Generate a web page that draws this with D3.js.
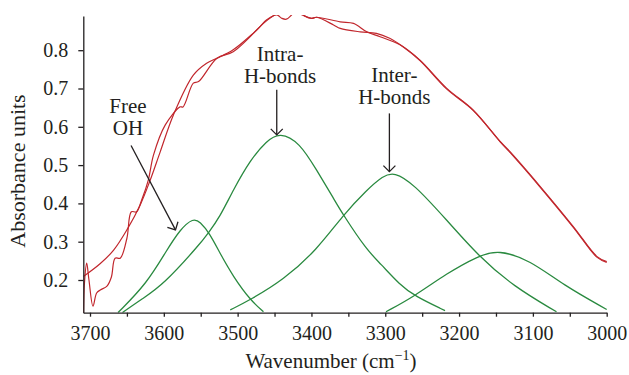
<!DOCTYPE html>
<html><head><meta charset="utf-8">
<script src="https://cdn.jsdelivr.net/npm/d3@7"></script>
<style>body{margin:0;background:#fff}</style>
</head><body><svg id="c" width="629" height="375"></svg>
<script>
// ---- data ----
const xTickValues = [3700,3650,3600,3550,3500,3450,3400,3350,3300,3250,3200,3150,3100,3050,3000];
const yTickValues = [0.2,0.3,0.4,0.5,0.6,0.7,0.8];

// measured spectrum (wiggly red)
const measWave = [3709,3707.5,3704.5,3701.4,3696,3691,3686,3677,3671,3666,3659,3650,3644,3637,3630,3621,3614,3598,3578,3574,3560,3553,3528,3506,3470,3461,3447,3440,3434,3427,3418,3409,3400,3393,3370,3361,3334,3312,3294,3276,3253,3217,3181,3144,3131,3090,3045,3013,3000];
const measAbs  = [0.09,0.192,0.244,0.20,0.132,0.166,0.174,0.184,0.208,0.257,0.257,0.309,0.378,0.378,0.409,0.461,0.526,0.605,0.652,0.652,0.714,0.718,0.779,0.796,0.861,0.879,0.892,0.883,0.881,0.892,0.910,0.889,0.883,0.886,0.866,0.857,0.848,0.844,0.831,0.809,0.773,0.699,0.643,0.560,0.533,0.442,0.337,0.259,0.246];

// fitted sum (smooth red)
const fitWave = [3709,3686,3668,3650,3632,3619,3605,3587,3560,3542,3528,3506,3479,3465,3452,3436,3422,3409,3400,3393,3361,3343,3325,3307,3280,3253,3217,3181,3144,3131,3090,3045,3013,3000];
const fitAbs  = [0.209,0.243,0.278,0.331,0.396,0.458,0.534,0.631,0.735,0.766,0.779,0.801,0.844,0.870,0.889,0.905,0.900,0.889,0.883,0.886,0.874,0.870,0.848,0.835,0.814,0.774,0.701,0.644,0.561,0.535,0.444,0.339,0.261,0.248];

// component bands (green)
const freeOHWave = [3662,3623,3596,3578,3560,3551,3538,3524,3506,3483,3465];
const freeOHAbs  = [0.115,0.191,0.278,0.332,0.362,0.352,0.322,0.270,0.209,0.148,0.117];
const intraWave = [3656,3630,3601,3551,3540,3524,3506,3483,3461,3443,3416,3393,3370,3357,3325,3307,3280,3260,3219];
const intraAbs  = [0.115,0.150,0.187,0.294,0.322,0.365,0.435,0.513,0.563,0.586,0.559,0.487,0.413,0.370,0.278,0.244,0.187,0.158,0.120];
const interWave = [3510,3483,3438,3393,3357,3325,3303,3288,3262,3217,3174,3126,3068];
const interAbs  = [0.122,0.148,0.200,0.278,0.370,0.435,0.472,0.482,0.452,0.357,0.263,0.183,0.117];
const lowWave = [3299,3260,3217,3174,3147,3104,3059,3000];
const lowAbs  = [0.117,0.158,0.217,0.263,0.279,0.252,0.187,0.123];

// annotations (data units)
const labelText = [["Free","OH"],["Intra-","H-bonds"],["Inter-","H-bonds"]];
const labelWave = [3648.5,3442.5,3287.7];
const labelAbs  = [0.637,0.773,0.716];
const arrowFrom = [[3644.4,0.551],[3447,0.697],[3294.4,0.635]];
const arrowTo   = [[3584.2,0.331],[3447,0.579],[3294.4,0.483]];

// ---- chart ----
const svg = d3.select("#c");
const L = 83.3, R = 606.7, T = 16, B = 312.7;
const x = d3.scaleLinear().domain([3709.08, 3000]).range([L, R]);
const y = d3.scaleLinear().domain([0.11462, 0.8893]).range([B, T]);
const ink = "#231f20";
const FONT = '"Liberation Serif"';
const red = "#c1272d", green = "#2a8a40";

const defs = svg.append("defs");
defs.append("clipPath").attr("id","clip")
  .append("rect").attr("x",L).attr("y",T-1).attr("width",R-L+1).attr("height",B-T+1);

const zip = (w,a) => w.map((v,i)=>[v,a[i]]);
const smooth = d3.line().x(d=>x(d[0])).y(d=>y(d[1])).curve(d3.curveBasis);
const rough = d3.line().x(d=>x(d[0])).y(d=>y(d[1])).curve(d3.curveCatmullRom.alpha(0.5));

const plot = svg.append("g").attr("clip-path","url(#clip)");
[[freeOHWave,freeOHAbs],[intraWave,intraAbs],[interWave,interAbs],[lowWave,lowAbs]].forEach(([w,a])=>{
  plot.append("path").attr("d", smooth(zip(w,a))).attr("fill","none")
    .attr("stroke",green).attr("stroke-width",1.3);
});
plot.append("path").attr("d", rough(zip(fitWave,fitAbs))).attr("fill","none")
  .attr("stroke",red).attr("stroke-width",1.2);
plot.append("path").attr("d", rough(zip(measWave,measAbs))).attr("fill","none")
  .attr("stroke",red).attr("stroke-width",1.2);

// axes
const xAxis = d3.axisBottom(x).tickValues(xTickValues).tickSize(4).tickSizeOuter(0).tickPadding(9.3)
  .tickFormat(d => d % 100 === 0 ? d3.format("d")(d) : "");
const gx = svg.append("g").attr("transform",`translate(0,${B})`).call(xAxis);
const yAxis = d3.axisLeft(y).tickValues(yTickValues).tickSize(5).tickSizeOuter(0).tickPadding(10)
  .tickFormat(d3.format(".1f"));
const gy = svg.append("g").attr("transform",`translate(${L},0)`).call(yAxis);
[gx,gy].forEach(g=>{
  g.attr("font-family",FONT).attr("font-size",20);
  g.selectAll("path,line").attr("stroke",ink).attr("stroke-width",1.3);
  g.selectAll("text").attr("fill",ink);
});

// axis titles
const xt = svg.append("text").attr("x",331).attr("y",368).attr("text-anchor","middle")
  .attr("fill",ink).attr("font-family",FONT).attr("font-size",21);
xt.append("tspan").text("Wavenumber (cm");
xt.append("tspan").attr("dy",-8).attr("font-size",14).text("\u22121");
xt.append("tspan").attr("dy",8).text(")");
svg.append("text").attr("transform","translate(25,171) rotate(-90)").attr("text-anchor","middle")
  .attr("fill",ink).attr("font-family",FONT).attr("font-size",22).text("Absorbance units");

// annotations
defs.append("marker").attr("id","arr").attr("viewBox","-8 -8 10 16")
  .attr("refX",0).attr("refY",0).attr("markerWidth",10).attr("markerHeight",16)
  .attr("markerUnits","userSpaceOnUse").attr("orient","auto")
  .append("path").attr("d","M-6,-6L0,0L-6,6").attr("fill","none").attr("stroke",ink).attr("stroke-width",1.3);
labelText.forEach((lines,i)=>{
  const t = svg.append("text").attr("text-anchor","middle").attr("fill",ink)
    .attr("font-family",FONT).attr("font-size",21);
  lines.forEach((s,j)=>{
    t.append("tspan").attr("x",x(labelWave[i])).attr("y",y(labelAbs[i]) + j*22).text(s);
  });
  svg.append("line").attr("x1",x(arrowFrom[i][0])).attr("y1",y(arrowFrom[i][1]))
    .attr("x2",x(arrowTo[i][0])).attr("y2",y(arrowTo[i][1]))
    .attr("stroke",ink).attr("stroke-width",1.3).attr("marker-end","url(#arr)");
});
</script></body></html>
